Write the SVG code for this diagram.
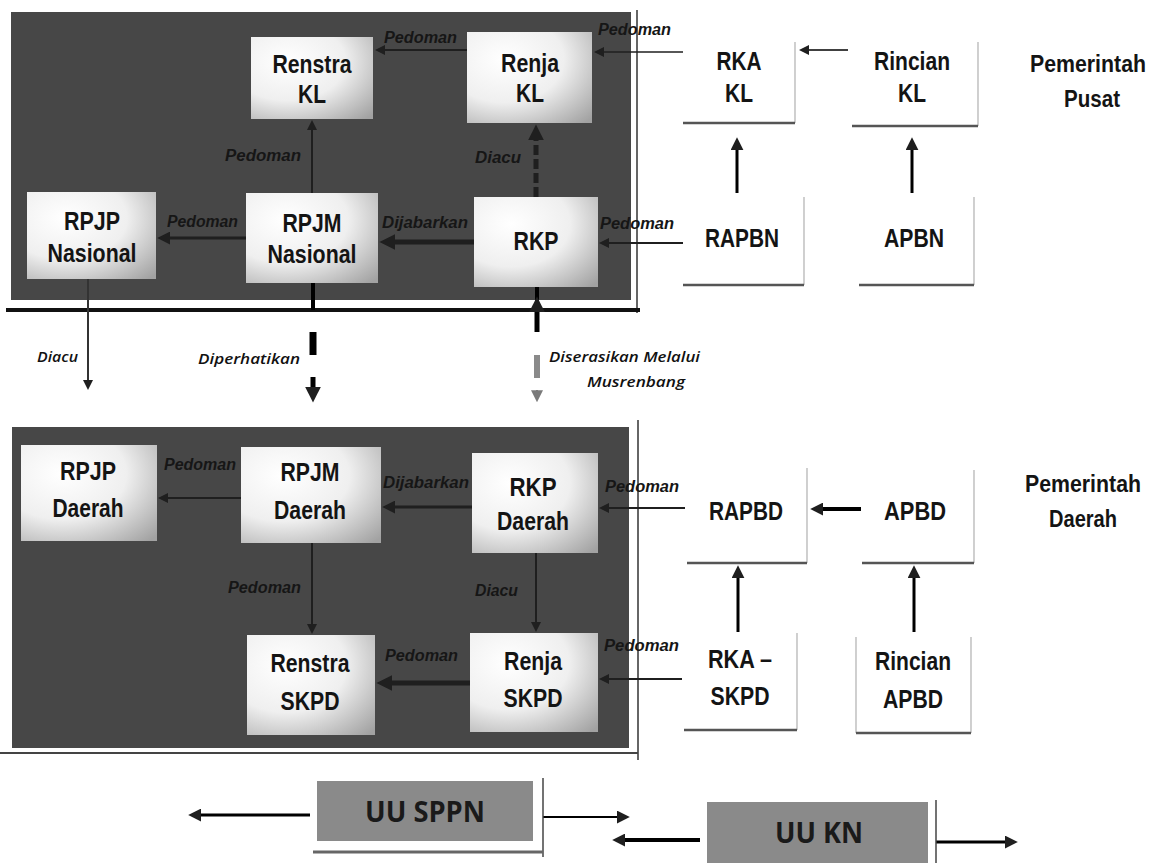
<svg xmlns="http://www.w3.org/2000/svg" width="1156" height="863" viewBox="0 0 1156 863">
<style>
.panel{fill:#474747}
.box{fill:url(#gbox)}
.wbox{fill:#ffffff}
.redge{stroke:#b0b0b0;stroke-width:1.2}
.bedge{stroke:#555;stroke-width:2.5}
.nt{font-family:"Liberation Sans",Arial,sans-serif;font-weight:bold;font-size:26px;fill:#141414;text-anchor:middle}
.pt{font-family:"Liberation Sans",Arial,sans-serif;font-weight:bold;font-size:23px;fill:#141414;text-anchor:middle}
.lb{font-family:"Liberation Sans",Arial,sans-serif;font-weight:bold;font-style:italic;font-size:16px;fill:#161616}
.ml{font-family:"Open Sans","Liberation Sans",sans-serif;font-style:italic;font-weight:600;font-size:15px;fill:#111}
.uu{fill:#8a8a8a}
.ut{font-family:"Open Sans","Liberation Sans",sans-serif;font-weight:bold;font-size:28px;fill:#1a1a1a;text-anchor:middle}
.c{stroke:#1f1f1f;fill:none}
.k{stroke:#000;fill:none}
</style>
<defs>
<radialGradient id="gbox" cx="0.3" cy="0.3" r="0.95">
<stop offset="0" stop-color="#ffffff"/>
<stop offset="0.5" stop-color="#efefef"/>
<stop offset="1" stop-color="#a2a2a2"/>
</radialGradient>
<marker id="ms" viewBox="0 0 10 10" refX="4" refY="5" markerWidth="10" markerHeight="10" markerUnits="userSpaceOnUse" orient="auto"><path d="M0,0 L10,5 L0,10 z" fill="#1f1f1f"/></marker>
<marker id="mm" viewBox="0 0 10 10" refX="4" refY="5" markerWidth="13" markerHeight="13" markerUnits="userSpaceOnUse" orient="auto"><path d="M0,0 L10,5 L0,10 z" fill="#1f1f1f"/></marker>
<marker id="ml" viewBox="0 0 10 10" refX="4" refY="5" markerWidth="16" markerHeight="16" markerUnits="userSpaceOnUse" orient="auto"><path d="M0,0 L10,5 L0,10 z" fill="#1f1f1f"/></marker>
<marker id="mg" viewBox="0 0 10 10" refX="4" refY="5" markerWidth="12" markerHeight="12" markerUnits="userSpaceOnUse" orient="auto"><path d="M0,0 L10,5 L0,10 z" fill="#7a7a7a"/></marker>
</defs>
<rect width="1156" height="863" fill="#ffffff"/>

<g id="panel-pusat">
<rect class="panel" x="11" y="12" width="620" height="288"/>
<line x1="637" y1="10" x2="637" y2="313" stroke="#333" stroke-width="1.5"/>
<line x1="6" y1="310" x2="640" y2="310" stroke="#111" stroke-width="4"/>
</g>
<g id="panel-daerah">
<rect class="panel" x="12" y="427" width="617" height="321"/>
<line x1="638" y1="420" x2="638" y2="760" stroke="#333" stroke-width="1.5"/>
<line x1="0" y1="753" x2="638" y2="753" stroke="#444" stroke-width="2"/>
</g>

<g id="connectors">
<line class="c" x1="467" y1="50" x2="381" y2="50" stroke-width="2" marker-end="url(#ms)"/>
<line class="c" x1="683" y1="52" x2="600" y2="52" stroke-width="1.5" marker-end="url(#ms)"/>
<line class="c" x1="312" y1="193" x2="312" y2="126" stroke-width="2" marker-end="url(#ms)"/>
<line class="c" x1="536" y1="197" x2="536" y2="134" stroke-width="5" stroke-dasharray="10 4" marker-end="url(#ml)"/>
<line class="c" x1="246" y1="238" x2="165" y2="238" stroke-width="3" marker-end="url(#mm)"/>
<line class="c" x1="474" y1="242" x2="389" y2="242" stroke-width="5" marker-end="url(#ml)"/>
<line class="c" x1="683" y1="243" x2="605" y2="243" stroke-width="2" marker-end="url(#ms)"/>
<line class="k" x1="848" y1="50" x2="805" y2="50" stroke-width="1.5" marker-end="url(#ms)"/>
<line class="k" x1="737" y1="193" x2="737" y2="145" stroke-width="3" marker-end="url(#mm)"/>
<line class="k" x1="912" y1="193" x2="912" y2="145" stroke-width="3" marker-end="url(#mm)"/>

<line x1="88" y1="279" x2="88" y2="384" stroke="#333" stroke-width="2" marker-end="url(#ms)"/>
<line class="k" x1="313" y1="283" x2="313" y2="310" stroke-width="4"/>
<line class="k" x1="313" y1="332" x2="313" y2="355" stroke-width="7"/>
<line class="k" x1="313" y1="377" x2="313" y2="393" stroke-width="5" marker-end="url(#ml)"/>
<line class="k" x1="537" y1="287" x2="537" y2="310" stroke-width="4"/>
<line class="k" x1="537" y1="332" x2="537" y2="306" stroke-width="5" marker-end="url(#ml)"/>
<line x1="537" y1="355" x2="537" y2="378" stroke="#8a8a8a" stroke-width="6"/>
<line x1="537" y1="390" x2="537" y2="395" stroke="#7a7a7a" stroke-width="2" marker-end="url(#mg)"/>

<line class="c" x1="241" y1="498" x2="164" y2="498" stroke-width="2" marker-end="url(#ms)"/>
<line class="c" x1="472" y1="507" x2="390" y2="507" stroke-width="3" marker-end="url(#mm)"/>
<line class="c" x1="685" y1="508" x2="605" y2="508" stroke-width="2" marker-end="url(#ms)"/>
<line class="c" x1="312" y1="543" x2="312" y2="628" stroke-width="2" marker-end="url(#ms)"/>
<line class="c" x1="536" y1="553" x2="536" y2="626" stroke-width="2" marker-end="url(#ms)"/>
<line class="c" x1="470" y1="683" x2="386" y2="683" stroke-width="5" marker-end="url(#ml)"/>
<line class="c" x1="682" y1="679" x2="605" y2="679" stroke-width="2" marker-end="url(#ms)"/>
<line class="k" x1="861" y1="509" x2="818" y2="509" stroke-width="4" marker-end="url(#mm)"/>
<line class="k" x1="738" y1="632" x2="738" y2="573" stroke-width="3" marker-end="url(#mm)"/>
<line class="k" x1="914" y1="632" x2="914" y2="573" stroke-width="3" marker-end="url(#mm)"/>

<line class="k" x1="310" y1="815" x2="196" y2="815" stroke-width="3" marker-end="url(#mm)"/>
<line class="k" x1="543" y1="817" x2="622" y2="817" stroke-width="2" marker-end="url(#mm)"/>
<line class="k" x1="700" y1="840" x2="620" y2="840" stroke-width="4" marker-end="url(#mm)"/>
<line class="k" x1="936" y1="842" x2="1010" y2="842" stroke-width="3" marker-end="url(#mm)"/>
</g>

<g id="labels">
<text class="lb" x="384" y="43" textLength="73" lengthAdjust="spacingAndGlyphs">Pedoman</text>
<text class="lb" x="598" y="35" textLength="73" lengthAdjust="spacingAndGlyphs">Pedoman</text>
<text class="lb" x="225" y="161" textLength="76" lengthAdjust="spacingAndGlyphs">Pedoman</text>
<text class="lb" x="475" y="163" textLength="46" lengthAdjust="spacingAndGlyphs">Diacu</text>
<text class="lb" x="167" y="227" textLength="71" lengthAdjust="spacingAndGlyphs">Pedoman</text>
<text class="lb" x="382" y="228" textLength="86" lengthAdjust="spacingAndGlyphs">Dijabarkan</text>
<text class="lb" x="600" y="229" textLength="74" lengthAdjust="spacingAndGlyphs">Pedoman</text>
<text class="lb" x="164" y="470" textLength="72" lengthAdjust="spacingAndGlyphs">Pedoman</text>
<text class="lb" x="383" y="488" textLength="86" lengthAdjust="spacingAndGlyphs">Dijabarkan</text>
<text class="lb" x="605" y="492" textLength="74" lengthAdjust="spacingAndGlyphs">Pedoman</text>
<text class="lb" x="228" y="593" textLength="73" lengthAdjust="spacingAndGlyphs">Pedoman</text>
<text class="lb" x="475" y="596" textLength="43" lengthAdjust="spacingAndGlyphs">Diacu</text>
<text class="lb" x="385" y="661" textLength="73" lengthAdjust="spacingAndGlyphs">Pedoman</text>
<text class="lb" x="604" y="651" textLength="75" lengthAdjust="spacingAndGlyphs">Pedoman</text>
<text class="ml" x="37" y="362" textLength="41" lengthAdjust="spacingAndGlyphs">Diacu</text>
<text class="ml" x="198" y="364" textLength="102" lengthAdjust="spacingAndGlyphs">Diperhatikan</text>
<text class="ml" x="549" y="362" textLength="151" lengthAdjust="spacingAndGlyphs">Diserasikan Melalui</text>
<text class="ml" x="587" y="387" textLength="98" lengthAdjust="spacingAndGlyphs">Musrenbang</text>
</g>

<g id="renstra-kl"><rect class="box" x="251" y="37" width="122" height="82"/><text class="nt" x="312" y="73" textLength="79" lengthAdjust="spacingAndGlyphs">Renstra</text><text class="nt" x="312" y="103" textLength="28" lengthAdjust="spacingAndGlyphs">KL</text></g>
<g id="renja-kl"><rect class="box" x="467" y="32" width="125" height="91"/><text class="nt" x="530" y="72" textLength="58" lengthAdjust="spacingAndGlyphs">Renja</text><text class="nt" x="530" y="102" textLength="28" lengthAdjust="spacingAndGlyphs">KL</text></g>
<g id="rpjp-nasional"><rect class="box" x="27" y="192" width="129" height="87"/><text class="nt" x="92" y="230" textLength="56" lengthAdjust="spacingAndGlyphs">RPJP</text><text class="nt" x="92" y="262" textLength="89" lengthAdjust="spacingAndGlyphs">Nasional</text></g>
<g id="rpjm-nasional"><rect class="box" x="246" y="193" width="132" height="90"/><text class="nt" x="312" y="232" textLength="59" lengthAdjust="spacingAndGlyphs">RPJM</text><text class="nt" x="312" y="263" textLength="89" lengthAdjust="spacingAndGlyphs">Nasional</text></g>
<g id="rkp"><rect class="box" x="474" y="197" width="124" height="90"/><text class="nt" x="536" y="250" textLength="45" lengthAdjust="spacingAndGlyphs">RKP</text></g>

<g id="rka-kl"><rect class="wbox" x="683" y="42" width="112" height="81"/><line class="redge" x1="795" y1="42" x2="795" y2="123"/><line class="bedge" x1="683" y1="123" x2="795" y2="123"/><text class="nt" x="739" y="70" textLength="45" lengthAdjust="spacingAndGlyphs">RKA</text><text class="nt" x="739" y="102" textLength="28" lengthAdjust="spacingAndGlyphs">KL</text></g>
<g id="rincian-kl"><rect class="wbox" x="852" y="42" width="126" height="84"/><line class="redge" x1="978" y1="42" x2="978" y2="126"/><line class="bedge" x1="852" y1="126" x2="978" y2="126"/><text class="nt" x="912" y="70" textLength="76" lengthAdjust="spacingAndGlyphs">Rincian</text><text class="nt" x="912" y="102" textLength="28" lengthAdjust="spacingAndGlyphs">KL</text></g>
<g id="rapbn"><rect class="wbox" x="683" y="197" width="121" height="88"/><line class="redge" x1="804" y1="197" x2="804" y2="285"/><line class="bedge" x1="683" y1="285" x2="804" y2="285"/><text class="nt" x="742" y="247" textLength="74" lengthAdjust="spacingAndGlyphs">RAPBN</text></g>
<g id="apbn"><rect class="wbox" x="859" y="197" width="115" height="88"/><line class="redge" x1="974" y1="197" x2="974" y2="285"/><line class="bedge" x1="859" y1="285" x2="974" y2="285"/><text class="nt" x="914" y="247" textLength="60" lengthAdjust="spacingAndGlyphs">APBN</text></g>
<g id="pemerintah-pusat"><text class="pt" x="1088" y="72" textLength="116" lengthAdjust="spacingAndGlyphs">Pemerintah</text><text class="pt" x="1092" y="107" textLength="56" lengthAdjust="spacingAndGlyphs">Pusat</text></g>

<g id="rpjp-daerah"><rect class="box" x="21" y="445" width="136" height="96"/><text class="nt" x="88" y="480" textLength="56" lengthAdjust="spacingAndGlyphs">RPJP</text><text class="nt" x="88" y="517" textLength="71" lengthAdjust="spacingAndGlyphs">Daerah</text></g>
<g id="rpjm-daerah"><rect class="box" x="241" y="447" width="140" height="96"/><text class="nt" x="310" y="481" textLength="59" lengthAdjust="spacingAndGlyphs">RPJM</text><text class="nt" x="310" y="519" textLength="72" lengthAdjust="spacingAndGlyphs">Daerah</text></g>
<g id="rkp-daerah"><rect class="box" x="472" y="453" width="126" height="100"/><text class="nt" x="533" y="496" textLength="47" lengthAdjust="spacingAndGlyphs">RKP</text><text class="nt" x="533" y="530" textLength="72" lengthAdjust="spacingAndGlyphs">Daerah</text></g>
<g id="renstra-skpd"><rect class="box" x="247" y="635" width="128" height="100"/><text class="nt" x="310" y="672" textLength="79" lengthAdjust="spacingAndGlyphs">Renstra</text><text class="nt" x="310" y="710" textLength="59" lengthAdjust="spacingAndGlyphs">SKPD</text></g>
<g id="renja-skpd"><rect class="box" x="470" y="633" width="128" height="99"/><text class="nt" x="533" y="670" textLength="58" lengthAdjust="spacingAndGlyphs">Renja</text><text class="nt" x="533" y="707" textLength="59" lengthAdjust="spacingAndGlyphs">SKPD</text></g>

<g id="rapbd"><rect class="wbox" x="687" y="468" width="120" height="95"/><line class="redge" x1="807" y1="468" x2="807" y2="563"/><line class="bedge" x1="687" y1="563" x2="807" y2="563"/><text class="nt" x="746" y="520" textLength="74" lengthAdjust="spacingAndGlyphs">RAPBD</text></g>
<g id="apbd"><rect class="wbox" x="862" y="470" width="112" height="93"/><line class="redge" x1="974" y1="470" x2="974" y2="563"/><line class="bedge" x1="862" y1="563" x2="974" y2="563"/><text class="nt" x="915" y="520" textLength="62" lengthAdjust="spacingAndGlyphs">APBD</text></g>
<g id="rka-skpd"><rect class="wbox" x="684" y="633" width="113" height="97"/><line class="redge" x1="797" y1="633" x2="797" y2="730"/><line class="bedge" x1="684" y1="730" x2="797" y2="730"/><text class="nt" x="740" y="668" textLength="64" lengthAdjust="spacingAndGlyphs">RKA –</text><text class="nt" x="740" y="705" textLength="59" lengthAdjust="spacingAndGlyphs">SKPD</text></g>
<g id="rincian-apbd"><rect class="wbox" x="856" y="637" width="115" height="96"/><line class="redge" x1="971" y1="637" x2="971" y2="733"/><line class="redge" x1="856" y1="637" x2="856" y2="733"/><line class="bedge" x1="856" y1="733" x2="971" y2="733"/><text class="nt" x="913" y="670" textLength="76" lengthAdjust="spacingAndGlyphs">Rincian</text><text class="nt" x="913" y="708" textLength="60" lengthAdjust="spacingAndGlyphs">APBD</text></g>
<g id="pemerintah-daerah"><text class="pt" x="1083" y="492" textLength="116" lengthAdjust="spacingAndGlyphs">Pemerintah</text><text class="pt" x="1083" y="527" textLength="68" lengthAdjust="spacingAndGlyphs">Daerah</text></g>

<g id="uu-sppn"><rect class="uu" x="317" y="781" width="216" height="60"/><line x1="543" y1="778" x2="543" y2="857" stroke="#444" stroke-width="1.5"/><line x1="313" y1="852" x2="543" y2="852" stroke="#666" stroke-width="3"/><text class="ut" x="425" y="822" textLength="120" lengthAdjust="spacingAndGlyphs">UU SPPN</text></g>
<g id="uu-kn"><rect class="uu" x="707" y="802" width="221" height="61"/><line x1="936" y1="800" x2="936" y2="863" stroke="#444" stroke-width="1.5"/><text class="ut" x="819" y="843" textLength="88" lengthAdjust="spacingAndGlyphs">UU KN</text></g>
</svg>
